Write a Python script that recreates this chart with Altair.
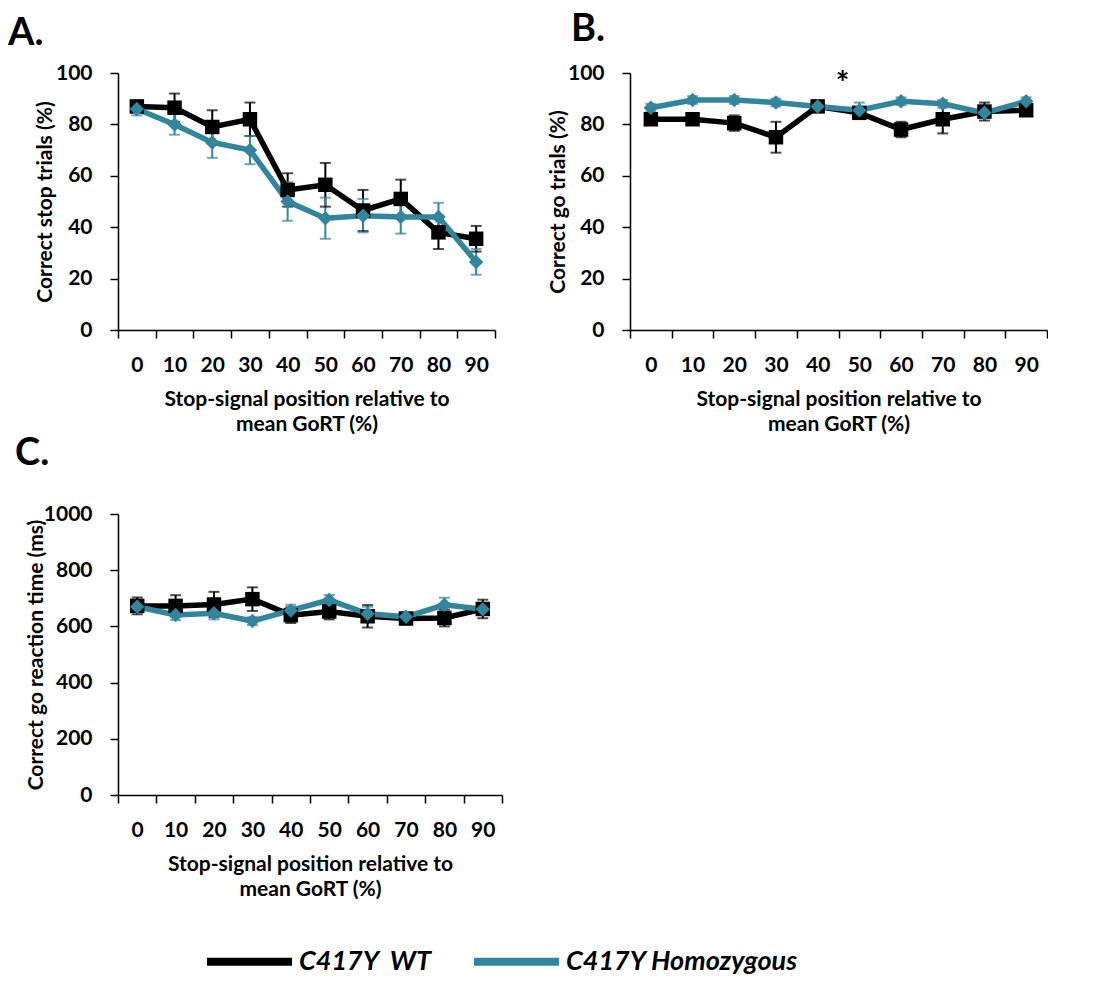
import altair as alt
import pandas as pd

positions = ["0", "10", "20", "30", "40", "50", "60", "70", "80", "90"]
series_names = ["C417Y\u00a0 WT", "C417Y Homozygous"]
series_colors = ["#000000", "#31859C"]
series_shapes = ["square", "diamond"]

# Panel A: correct stop trials (%)
wt_stop = [87, 86.5, 79, 82, 54.5, 56.5, 46.5, 51, 38, 35.5]
wt_stop_err = [2, 5.5, 6.5, 6.5, 6.5, 8.5, 8, 7.5, 6.5, 5]
hom_stop = [86, 80, 73, 70, 50, 43.5, 44.5, 44, 44, 26.5]
hom_stop_err = [2.5, 4, 6, 5.5, 7.5, 8, 6.5, 6.5, 5.5, 5]

# Panel B: correct go trials (%)
wt_go = [82, 82, 80.5, 75, 87, 84.5, 78, 82, 85, 85.5]
wt_go_err = [1.5, 1.5, 3, 6, 1.5, 2, 3, 5.5, 3.5, 2]
hom_go = [86.5, 89.5, 89.5, 88.5, 87, 85.5, 89, 88, 84.5, 89]
hom_go_err = [1.5, 1.5, 1.5, 1.5, 1.5, 3, 1.5, 1.5, 1.5, 1.5]

# Panel C: correct go reaction time (ms)
wt_rt = [673, 673, 678, 697, 640, 653, 636, 628, 630, 662]
wt_rt_err = [30, 38, 45, 42, 28, 28, 40, 15, 30, 33]
hom_rt = [670, 641, 647, 619, 657, 694, 645, 634, 677, 661]
hom_rt_err = [18, 18, 22, 14, 20, 18, 25, 12, 25, 20]

x_title = ["Stop-signal position relative to", "mean GoRT (%)"]
FONT = "Lato"


def make_df(wt, wt_err, hom, hom_err):
    rows = []
    for name, vals, errs in ((series_names[0], wt, wt_err), (series_names[1], hom, hom_err)):
        for p, v, e in zip(positions, vals, errs):
            rows.append({"pos": p, "series": name, "value": v, "lo": v - e, "hi": v + e})
    return pd.DataFrame(rows)


shape_scale = alt.Scale(domain=series_names, range=series_shapes)


def panel(df, ytitle, ymax, ystep, width, height, label, label_dx, label_offset, title_x, extra=None):
    xs = alt.X(
        "pos:O",
        bandPosition=0.5,
        scale=alt.Scale(type="band", domain=positions, paddingInner=0, paddingOuter=0),
        axis=alt.Axis(
            title=x_title, tickBand="extent", labelAngle=0, tickSize=8,
            labelPadding=16, titleY=58, titleBaseline="top", titleLineHeight=25,
        ),
    )
    yscale = alt.Scale(domain=[0, ymax], nice=False, zero=True)
    ys = alt.Y(
        "value:Q", scale=yscale,
        axis=alt.Axis(
            title=ytitle, values=list(range(0, ymax + 1, ystep)), tickSize=8, format="d",
            labelPadding=18, grid=False, titleX=title_x, titleY=height / 2,
            titleBaseline="middle", titleAngle=270,
        ),
    )
    cscale = alt.Scale(domain=series_names, range=series_colors)
    color = alt.Color("series:N", scale=cscale, legend=None, title=None)
    base = alt.Chart(df)
    err = base.mark_rule(strokeWidth=2).encode(
        x=xs, y=alt.Y("lo:Q", scale=yscale), y2="hi:Q", color=color
    )
    cap_lo = base.mark_tick(thickness=2, size=11).encode(
        x=xs, y=alt.Y("lo:Q", scale=yscale), color=color
    )
    cap_hi = base.mark_tick(thickness=2, size=11).encode(
        x=xs, y=alt.Y("hi:Q", scale=yscale), color=color
    )
    line = base.mark_line(strokeWidth=5.5).encode(x=xs, y=ys, color=color)
    pts = base.mark_point(filled=True, opacity=1, size=210).encode(
        x=xs, y=ys, color=color,
        shape=alt.Shape("series:N", scale=shape_scale, legend=None),
    )
    layers = [err, cap_lo, cap_hi, line, pts]
    if extra is not None:
        layers.append(extra)
    return alt.layer(*layers).properties(
        width=width, height=height,
        title=alt.TitleParams(
            label, anchor="start", frame="group", dx=label_dx, offset=label_offset,
            fontSize=38, font=FONT, fontWeight="bold", color="black",
        ),
    )


df_a = make_df(wt_stop, wt_stop_err, hom_stop, hom_stop_err)
df_b = make_df(wt_go, wt_go_err, hom_go, hom_go_err)
df_c = make_df(wt_rt, wt_rt_err, hom_rt, hom_rt_err)

star_df = pd.DataFrame({"pos": ["50"], "value": [100], "txt": ["*"]})
star = alt.Chart(star_df).mark_text(
    fontSize=32, font=FONT, fontWeight="bold", baseline="alphabetic", align="center", dx=4, dy=22, color="black"
).encode(
    x=alt.X("pos:O", bandPosition=0,
            scale=alt.Scale(type="band", domain=positions, paddingInner=0, paddingOuter=0)),
    y=alt.Y("value:Q", scale=alt.Scale(domain=[0, 100], nice=False)),
    text="txt:N",
)

chart_a = panel(df_a, "Correct stop trials (%)", 100, 20, 377, 257, "A.", -110, 9, -73)
chart_b = panel(df_b, "Correct go trials (%)", 100, 20, 417, 257, "B.", -59, 13, -72, extra=star)
chart_c = panel(df_c, "Correct go reaction time (ms)", 1000, 200, 384, 281, "C.", -103, 30, -82)

# Legend-only view: one row per series, so the line itself draws nothing.
legend_df = pd.DataFrame({"series": series_names})
legend_chart = alt.Chart(legend_df).mark_line(strokeWidth=8).encode(
    x=alt.value(0), y=alt.value(0),
    color=alt.Color(
        "series:N", scale=alt.Scale(domain=series_names, range=series_colors), title=None,
        legend=alt.Legend(
            orient="none", legendX=-427, legendY=401, direction="horizontal", symbolType="stroke",
            symbolSize=7225, symbolStrokeWidth=8, labelFont=FONT, labelFontSize=27,
            labelFontStyle="italic", labelFontWeight="bold", labelColor="black",
            labelOffset=3, columnPadding=26, labelLimit=400, symbolOpacity=1,
        ),
    ),
).properties(width=1, height=1)

chart = alt.concat(
    chart_a, chart_b, chart_c, legend_chart, columns=2,
    spacing={"row": 184, "column": 128}, bounds="flush"
).resolve_scale(color="independent", shape="independent").configure(
    font=FONT, padding={"left": 0, "top": 3, "right": 0, "bottom": 0}
).configure_view(stroke=None).configure_axis(
    labelFont=FONT, titleFont=FONT, labelFontSize=21, titleFontSize=21,
    labelFontWeight="bold", titleFontWeight="bold", labelColor="black", titleColor="black",
    domainColor="black", tickColor="black", domainWidth=1.5, tickWidth=1.5, grid=False,
)

chart.save("out.html", embed_options={"renderer": "svg", "actions": False})
